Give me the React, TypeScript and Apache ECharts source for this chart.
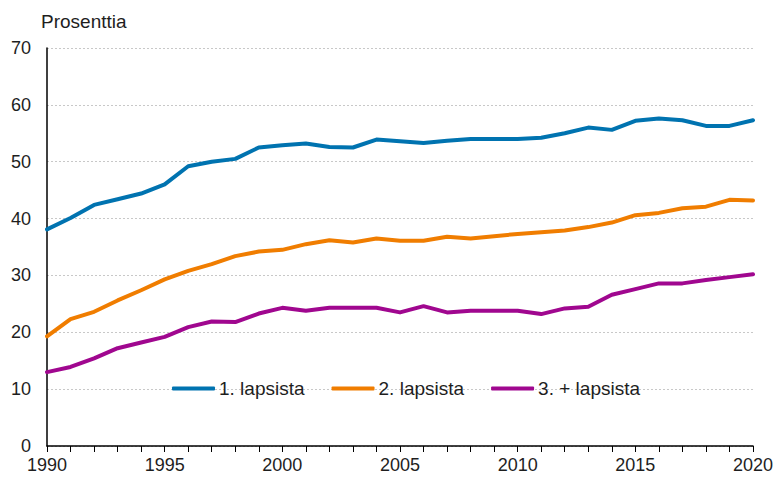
import React, { useEffect, useRef } from "react";
import * as echarts from "echarts";

const years: string[] = [];
for (let y = 1990; y <= 2020; y++) years.push(String(y));

const first = [38.1, 40.1, 42.4, 43.4, 44.4, 46.0, 49.2, 50.0, 50.5, 52.5, 52.9, 53.2, 52.6, 52.5, 53.9, 53.6, 53.3, 53.7, 54.0, 54.0, 54.0, 54.2, 55.0, 56.0, 55.6, 57.2, 57.6, 57.3, 56.3, 56.3, 57.3];
const second = [19.3, 22.3, 23.6, 25.6, 27.4, 29.3, 30.8, 32.0, 33.4, 34.2, 34.5, 35.5, 36.2, 35.8, 36.5, 36.1, 36.1, 36.8, 36.5, 36.9, 37.3, 37.6, 37.9, 38.5, 39.3, 40.6, 41.0, 41.8, 42.1, 43.3, 43.2];
const third = [13.0, 13.9, 15.4, 17.2, 18.2, 19.2, 20.9, 21.9, 21.8, 23.3, 24.3, 23.8, 24.3, 24.3, 24.3, 23.5, 24.6, 23.5, 23.8, 23.8, 23.8, 23.2, 24.2, 24.5, 26.6, 27.6, 28.6, 28.6, 29.2, 29.7, 30.2];

const seriesNames = ["1. lapsista", "2. lapsista", "3. + lapsista"];
const colors = ["#0073b0", "#f07d00", "#a0078f"];

export default function App() {
  const ref = useRef<HTMLDivElement>(null);
  useEffect(() => {
    if (!ref.current) return;
    const chart = echarts.init(ref.current, undefined, { renderer: "svg" });
    const font = "Liberation Sans, Arial, sans-serif";
    const mk = (name: string, data: number[], color: string) => ({
      name,
      type: "line",
      data,
      symbol: "none",
      smooth: false,
      lineStyle: { width: 4, color, cap: "round", join: "round" },
      itemStyle: { color },
    });
    chart.setOption({
      animation: false,
      backgroundColor: "#ffffff",
      textStyle: { fontFamily: font },
      grid: { left: 47, right: 25, top: 48, bottom: 31, containLabel: false },
      graphic: [
        {
          type: "text",
          left: 41,
          top: 12,
          style: { text: "Prosenttia", fontSize: 19, fontFamily: font, fill: "#1e1e1e" },
        },
      ],
      legend: {
        left: 172,
        top: 379,
        padding: 0,
        icon: "roundRect",
        itemWidth: 43,
        itemHeight: 4,
        itemGap: 27,
        textStyle: { fontSize: 19, color: "#1e1e1e", fontFamily: font, padding: [0, 0, 0, -1] },
        data: seriesNames,
      },
      xAxis: {
        type: "category",
        data: years,
        boundaryGap: false,
        axisLine: { show: true, lineStyle: { color: "#000", width: 1.5 } },
        axisTick: { show: true, interval: 0, length: 6, lineStyle: { color: "#000" } },
        axisLabel: {
          interval: 4,
          fontSize: 18,
          color: "#1e1e1e",
          fontFamily: font,
          margin: 10,
          showMaxLabel: true,
        },
        splitLine: { show: false },
      },
      yAxis: {
        type: "value",
        min: 0,
        max: 70,
        interval: 10,
        axisLine: { show: true, lineStyle: { color: "#000", width: 1.5 } },
        axisTick: { show: false },
        axisLabel: { fontSize: 18, color: "#1e1e1e", fontFamily: font, margin: 16 },
        splitLine: { show: true, lineStyle: { color: "#c8c8c8", type: [2, 2], width: 1 } },
      },
      series: [
        mk(seriesNames[0], first, colors[0]),
        mk(seriesNames[1], second, colors[1]),
        mk(seriesNames[2], third, colors[2]),
      ],
    });
    return () => chart.dispose();
  }, []);
  return (
    <div
      ref={ref}
      style={{ position: "absolute", left: 0, top: 0, width: 778, height: 477 }}
    />
  );
}
